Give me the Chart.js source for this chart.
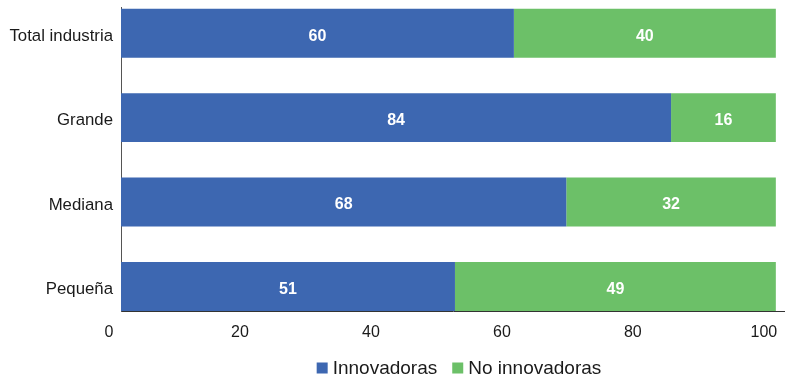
<!DOCTYPE html>
<html>
<head>
<meta charset="utf-8">
<script src="https://cdn.jsdelivr.net/npm/chart.js@4.4.0/dist/chart.umd.min.js"></script>
<style>
  html, body { margin: 0; padding: 0; background: #ffffff; }
  #wrap { position: relative; width: 785px; height: 379px; }
</style>
</head>
<body>
<div id="wrap"><canvas id="chart" width="785" height="379"></canvas></div>
<script>
// Firm-size categories and share of innovating / non-innovating firms (%)
const categories = ['Total industria', 'Grande', 'Mediana', 'Pequeña'];
const innovadoras = [60, 84, 68, 51];
const noInnovadoras = [40, 16, 32, 49];
const seriesNames = ['Innovadoras', 'No innovadoras'];
const xTicks = [0, 20, 40, 60, 80, 100];

const BLUE = '#3d67b1';
const GREEN = '#6cc068';
const FONT = '"Liberation Sans", Arial, Helvetica, sans-serif';

// White value labels inside each stacked segment
const valueLabels = {
  id: 'valueLabels',
  afterDatasetsDraw(chart) {
    const ctx = chart.ctx;
    ctx.save();
    ctx.fillStyle = '#ffffff';
    ctx.font = 'bold 16px ' + FONT;
    ctx.textAlign = 'center';
    ctx.textBaseline = 'middle';
    chart.data.datasets.forEach((ds, di) => {
      const meta = chart.getDatasetMeta(di);
      meta.data.forEach((bar, i) => {
        const cx = (bar.x + bar.base) / 2;
        ctx.fillText(String(ds.data[i].x), cx, bar.y + 3);
      });
    });
    ctx.restore();
  }
};

// Legend row under the plot, centred on the plotting area
const bottomLegend = {
  id: 'bottomLegend',
  afterDraw(chart) {
    const ctx = chart.ctx;
    const area = chart.chartArea;
    ctx.save();
    ctx.font = '19px ' + FONT;
    ctx.textBaseline = 'middle';
    ctx.textAlign = 'left';
    const box = 11, gap = 5, spacing = 15;
    const items = chart.data.datasets.map(ds => ({
      text: ds.label, color: ds.backgroundColor, w: box + gap + ctx.measureText(ds.label).width
    }));
    const total = items.reduce((s, it) => s + it.w, 0) + spacing * (items.length - 1);
    let x = (area.left + area.right) / 2 + 6 - total / 2;
    const cy = 368;
    items.forEach(it => {
      ctx.fillStyle = it.color;
      ctx.fillRect(x, cy - box / 2, box, box);
      ctx.fillStyle = '#1a1a1a';
      ctx.fillText(it.text, x + box + gap, cy + 1);
      x += it.w + spacing;
    });
    ctx.restore();
  }
};

const toPoints = arr => arr.map((v, i) => ({ x: v, y: i }));

new Chart(document.getElementById('chart'), {
  type: 'bar',
  data: {
    datasets: [
      { label: seriesNames[0], data: toPoints(innovadoras), backgroundColor: BLUE },
      { label: seriesNames[1], data: toPoints(noInnovadoras), backgroundColor: GREEN }
    ]
  },
  options: {
    indexAxis: 'y',
    responsive: false,
    animation: false,
    maintainAspectRatio: false,
    layout: { padding: { top: 7, right: 0, left: 0, bottom: 38 } },
    datasets: { bar: { barPercentage: 0.58, categoryPercentage: 1, borderWidth: 0 } },
    plugins: { legend: { display: false }, tooltip: { enabled: false } },
    scales: {
      x: {
        type: 'linear',
        stacked: true,
        min: 0,
        max: 101.4,
        afterBuildTicks(scale) { scale.ticks = xTicks.map(v => ({ value: v })); },
        afterFit(scale) { scale.height = 30; scale.paddingRight = 0; scale.paddingLeft = 0; },
        grid: { display: false, drawTicks: false },
        border: { display: true, color: '#333333', width: 1 },
        ticks: {
          padding: 12,
          labelOffset: -12,
          color: '#1a1a1a',
          font: { family: FONT, size: 16 },
          maxRotation: 0,
          autoSkip: false
        }
      },
      y: {
        type: 'linear',
        stacked: true,
        reverse: true,
        offset: false,
        min: -0.31,
        max: 3.29,
        afterBuildTicks(scale) { scale.ticks = categories.map((c, i) => ({ value: i })); },
        afterFit(scale) { scale.width = 121; scale.paddingTop = 0; scale.paddingBottom = 0; },
        grid: { display: false, drawTicks: false, offset: false },
        border: { display: true, color: '#555555', width: 1 },
        ticks: {
          padding: 8,
          labelOffset: 3,
          color: '#1a1a1a',
          font: { family: FONT, size: 16.8 },
          callback: v => categories[v],
          autoSkip: false
        }
      }
    }
  },
  plugins: [valueLabels, bottomLegend]
});
</script>
</body>
</html>
